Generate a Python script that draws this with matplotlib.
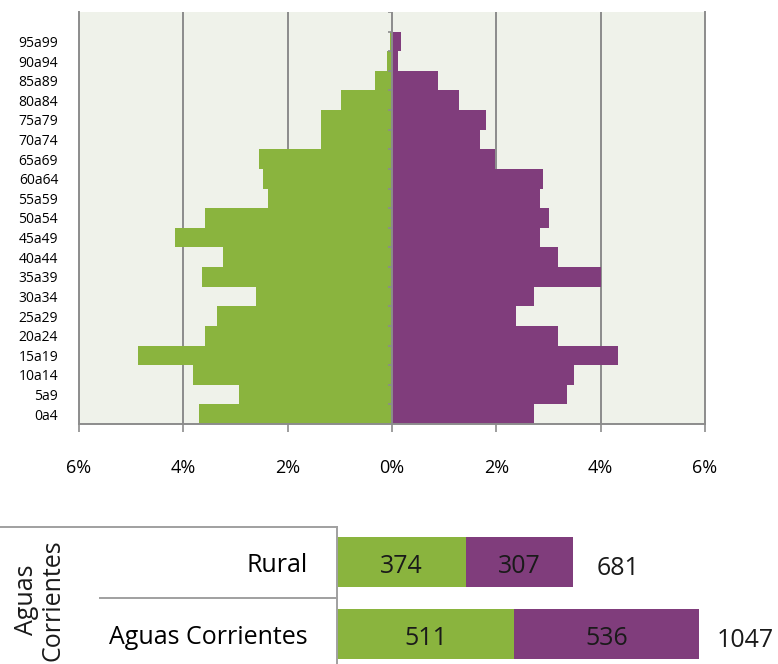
import numpy as np
import matplotlib.pyplot as plt
from matplotlib.lines import Line2D
from matplotlib.ticker import FuncFormatter

plt.rcParams['font.family'] = ['Open Sans', 'DejaVu Sans']

# piramide (% de poblacion por grupo de edad)
grupos = ["0a4", "5a9", "10a14", "15a19", "20a24", "25a29", "30a34", "35a39",
          "40a44", "45a49", "50a54", "55a59", "60a64", "65a69", "70a74",
          "75a79", "80a84", "85a89", "90a94", "95a99"]
varones = [3.70, 2.94, 3.81, 4.86, 3.58, 3.35, 2.60, 3.64, 3.24, 4.16,
           3.58, 2.37, 2.48, 2.54, 1.37, 1.37, 0.97, 0.33, 0.10, 0.04]
mujeres = [2.72, 3.36, 3.48, 4.34, 3.19, 2.38, 2.72, 4.00, 3.19, 2.84,
           3.01, 2.84, 2.90, 1.98, 1.69, 1.80, 1.28, 0.88, 0.12, 0.18]
x_ticks = [-6, -4, -2, 0, 2, 4, 6]

# totales por localidad
localidades = ["Aguas Corrientes", "Rural"]
loc_varones = [511, 374]
loc_mujeres = [536, 307]
loc_totales = [a + b for a, b in zip(loc_varones, loc_mujeres)]

VERDE = "#8AB43E"
VIOLETA = "#803D7C"
GRIS = "#8C8C8C"
FONDO = "#EFF2EA"
TXT = "#1a1a1a"

fig = plt.figure(figsize=(7.78, 6.64), dpi=100)

# ---- piramide
ax = fig.add_axes([79 / 778, 1 - 424 / 664, 626 / 778, 412 / 664])
ax.set_facecolor(FONDO)
y = np.arange(len(grupos))
ax.barh(y, [-v for v in varones], height=1.0, color=VERDE, zorder=2)
ax.barh(y, mujeres, height=1.0, color=VIOLETA, zorder=2)

ax.set_xlim(-6, 6)
ax.set_ylim(-0.5, len(grupos) + 0.5)
for xv in x_ticks:
    if xv not in (-6, 0, 6):
        ax.axvline(xv, color=GRIS, lw=1.4, zorder=1)
ax.axvline(0, color=GRIS, lw=1.4, zorder=3)
bordes = np.arange(len(grupos) + 2) - 0.5
ax.hlines(bordes[1:], -0.07, 0, color=GRIS, lw=1.2, zorder=3)

ax.set_xticks(x_ticks)
ax.xaxis.set_major_formatter(FuncFormatter(lambda v, p: f"{abs(v):.0f}%"))
ax.set_yticks(y)
ax.set_yticklabels(grupos)
ax.tick_params(axis='x', length=6, width=1.2, color=GRIS, pad=19, labelsize=13)
ax.tick_params(axis='y', length=0, pad=15, labelsize=10)
ax.spines['top'].set_visible(False)
for s in ('left', 'right', 'bottom'):
    ax.spines[s].set_color(GRIS)
    ax.spines[s].set_linewidth(1.4)

# ---- barras por localidad
ax2 = fig.add_axes([337 / 778, 0, 441 / 778, 137 / 664])
y2 = np.arange(len(localidades))
ax2.barh(y2, loc_varones, height=50 / 72, color=VERDE)
ax2.barh(y2, loc_mujeres, left=loc_varones, height=50 / 72, color=VIOLETA)
for yi, v, m, tot in zip(y2, loc_varones, loc_mujeres, loc_totales):
    ax2.annotate(str(v), (v / 2, yi), xytext=(0, -3), textcoords='offset points',
                 ha='center', va='center', fontsize=18, color=TXT)
    ax2.annotate(str(m), (v + m / 2, yi), xytext=(0, -3), textcoords='offset points',
                 ha='center', va='center', fontsize=18, color=TXT)
    ax2.annotate(str(tot), (tot, yi), xytext=(33, -5), textcoords='offset points',
                 ha='center', va='center', fontsize=18, color=TXT)
ax2.set_xlim(0, 441 / 0.346)
ax2.set_ylim(-30 / 72, 1 + 35 / 72)
ax2.set_yticks(y2)
ax2.set_yticklabels(localidades)
ax2.tick_params(axis='y', length=0, pad=21, labelsize=18)
ax2.set_xticks([])
for s in ('top', 'right', 'bottom'):
    ax2.spines[s].set_visible(False)
ax2.spines['left'].set_color('#A0A0A0')
ax2.spines['left'].set_linewidth(1.4)

fig.add_artist(Line2D([0, 337 / 778], [1 - 527 / 664] * 2, color='#A0A0A0', lw=1.4))
fig.add_artist(Line2D([100 / 778, 337 / 778], [1 - 598 / 664] * 2, color='#A0A0A0', lw=1.4))
fig.text(40 / 778, 1 - 600 / 664, "Aguas\nCorrientes", rotation=90, ha='center',
         va='center', fontsize=18, linespacing=1.1, color=TXT)

fig.savefig("out.png", dpi=100)
